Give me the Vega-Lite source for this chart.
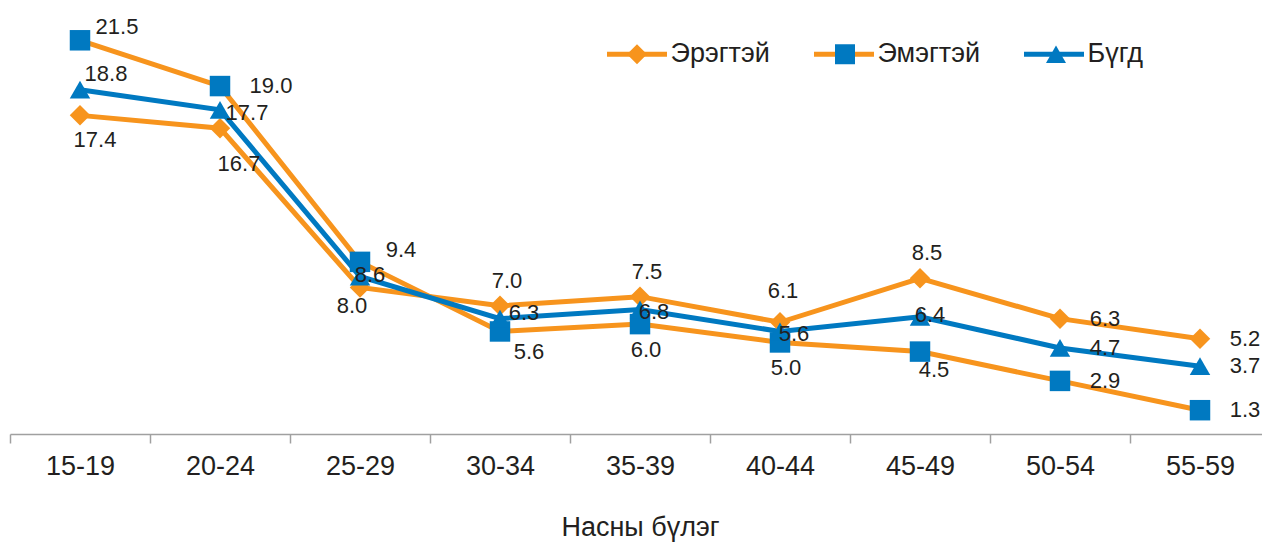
{
  "$schema": "https://vega.github.io/schema/vega-lite/v6.json",
  "width": 1260,
  "height": 434,
  "autosize": {"type": "none"},
  "padding": {"left": 10, "top": 0, "right": 0, "bottom": 109},
  "background": "white",
  "config": {
    "font": "Liberation Sans",
    "view": {"stroke": null},
    "text": {"fontSize": 22, "fill": "#231f20", "baseline": "middle", "align": "center"}
  },
  "data": {
    "values": [
      {"age": "15-19", "series": "Эрэгтэй", "value": 17.4},
      {"age": "20-24", "series": "Эрэгтэй", "value": 16.7},
      {"age": "25-29", "series": "Эрэгтэй", "value": 8.0},
      {"age": "30-34", "series": "Эрэгтэй", "value": 7.0},
      {"age": "35-39", "series": "Эрэгтэй", "value": 7.5},
      {"age": "40-44", "series": "Эрэгтэй", "value": 6.1},
      {"age": "45-49", "series": "Эрэгтэй", "value": 8.5},
      {"age": "50-54", "series": "Эрэгтэй", "value": 6.3},
      {"age": "55-59", "series": "Эрэгтэй", "value": 5.2},
      {"age": "15-19", "series": "Эмэгтэй", "value": 21.5},
      {"age": "20-24", "series": "Эмэгтэй", "value": 19.0},
      {"age": "25-29", "series": "Эмэгтэй", "value": 9.4},
      {"age": "30-34", "series": "Эмэгтэй", "value": 5.6},
      {"age": "35-39", "series": "Эмэгтэй", "value": 6.0},
      {"age": "40-44", "series": "Эмэгтэй", "value": 5.0},
      {"age": "45-49", "series": "Эмэгтэй", "value": 4.5},
      {"age": "50-54", "series": "Эмэгтэй", "value": 2.9},
      {"age": "55-59", "series": "Эмэгтэй", "value": 1.3},
      {"age": "15-19", "series": "Бүгд", "value": 18.8},
      {"age": "20-24", "series": "Бүгд", "value": 17.7},
      {"age": "25-29", "series": "Бүгд", "value": 8.6},
      {"age": "30-34", "series": "Бүгд", "value": 6.3},
      {"age": "35-39", "series": "Бүгд", "value": 6.8},
      {"age": "40-44", "series": "Бүгд", "value": 5.6},
      {"age": "45-49", "series": "Бүгд", "value": 6.4},
      {"age": "50-54", "series": "Бүгд", "value": 4.7},
      {"age": "55-59", "series": "Бүгд", "value": 3.7}
    ]
  },
  "encoding": {
    "x": {
      "field": "age",
      "type": "ordinal",
      "title": "Насны бүлэг",
      "scale": {"paddingInner": 0, "paddingOuter": 0},
      "axis": {
        "labelAngle": 0,
        "labelFontSize": 27,
        "labelColor": "#231f20",
        "labelPadding": 10,
        "tickBand": "extent",
        "tickSize": 9,
        "tickColor": "#a0a0a0",
        "tickWidth": 1.5,
        "domainColor": "#a0a0a0",
        "domainWidth": 1.5,
        "grid": false,
        "titleFontSize": 27,
        "titleFontWeight": "normal",
        "titleColor": "#231f20",
        "titlePadding": 35
      }
    },
    "y": {
      "field": "value",
      "type": "quantitative",
      "scale": {"domain": [0, 23.7], "nice": false, "zero": true},
      "axis": null
    }
  },
  "layer": [
    {
      "mark": {"type": "line", "strokeWidth": 5},
      "encoding": {
        "stroke": {
          "field": "series",
          "type": "nominal",
          "scale": {"domain": ["Эрэгтэй", "Эмэгтэй", "Бүгд"], "range": ["#F7941D", "#F7941D", "#0079C1"]},
          "legend": {
            "orient": "none",
            "direction": "horizontal",
            "legendX": 594.5,
            "legendY": 21.5,
            "title": null,
            "padding": 0,
            "symbolType": "stroke",
            "symbolSize": 3600,
            "symbolStrokeWidth": 5,
            "labelFontSize": 27,
            "labelColor": "#231f20",
            "labelOffset": 1,
            "columnPadding": 33
          }
        }
      }
    },
    {
      "mark": {"type": "point", "filled": true, "size": 420, "opacity": 1, "strokeWidth": 0},
      "encoding": {
        "fill": {
          "field": "series",
          "type": "nominal",
          "sort": "descending",
          "scale": {"range": ["#F7941D", "#0079C1", "#0079C1"]},
          "legend": {
            "orient": "none",
            "direction": "horizontal",
            "legendX": 613.5,
            "legendY": 40.5,
            "title": null,
            "padding": 0,
            "symbolSize": 400,
            "symbolStrokeWidth": 0,
            "symbolOpacity": 1,
            "labelFontSize": 27,
            "labelOpacity": 0,
            "labelOffset": 20,
            "columnPadding": 61
          }
        },
        "shape": {
          "field": "series",
          "type": "nominal",
          "sort": "descending",
          "scale": {"range": ["diamond", "square", "triangle-up"]}
        }
      }
    },
    {"transform": [{"filter": "datum.age === '50-54' || datum.age === '55-59'"}], "mark": {"type": "text", "dx": 45, "dy": 0}, "encoding": {"text": {"field": "value", "format": ".1f"}}},
    {"transform": [{"filter": "datum.series === 'Эрэгтэй' && indexof(['30-34','35-39','45-49'], datum.age) >= 0"}], "mark": {"type": "text", "dx": 7, "dy": -25}, "encoding": {"text": {"field": "value", "format": ".1f"}}},
    {"transform": [{"filter": "datum.series === 'Эрэгтэй' && datum.age === '40-44'"}], "mark": {"type": "text", "dx": 3, "dy": -31}, "encoding": {"text": {"field": "value", "format": ".1f"}}},
    {"transform": [{"filter": "datum.series === 'Эрэгтэй' && datum.age === '15-19'"}], "mark": {"type": "text", "dx": 15, "dy": 25}, "encoding": {"text": {"field": "value", "format": ".1f"}}},
    {"transform": [{"filter": "datum.series === 'Эрэгтэй' && datum.age === '20-24'"}], "mark": {"type": "text", "dx": 19, "dy": 36}, "encoding": {"text": {"field": "value", "format": ".1f"}}},
    {"transform": [{"filter": "datum.series === 'Эрэгтэй' && datum.age === '25-29'"}], "mark": {"type": "text", "dx": -8, "dy": 18}, "encoding": {"text": {"field": "value", "format": ".1f"}}},
    {"transform": [{"filter": "datum.series === 'Эмэгтэй' && datum.age === '15-19'"}], "mark": {"type": "text", "dx": 37, "dy": -13}, "encoding": {"text": {"field": "value", "format": ".1f"}}},
    {"transform": [{"filter": "datum.series === 'Эмэгтэй' && datum.age === '20-24'"}], "mark": {"type": "text", "dx": 51, "dy": 0}, "encoding": {"text": {"field": "value", "format": ".1f"}}},
    {"transform": [{"filter": "datum.series === 'Эмэгтэй' && datum.age === '25-29'"}], "mark": {"type": "text", "dx": 41, "dy": -12}, "encoding": {"text": {"field": "value", "format": ".1f"}}},
    {"transform": [{"filter": "datum.series === 'Эмэгтэй' && datum.age === '30-34'"}], "mark": {"type": "text", "dx": 29, "dy": 21}, "encoding": {"text": {"field": "value", "format": ".1f"}}},
    {"transform": [{"filter": "datum.series === 'Эмэгтэй' && (datum.age === '35-39' || datum.age === '40-44')"}], "mark": {"type": "text", "dx": 6, "dy": 26}, "encoding": {"text": {"field": "value", "format": ".1f"}}},
    {"transform": [{"filter": "datum.series === 'Эмэгтэй' && datum.age === '45-49'"}], "mark": {"type": "text", "dx": 14, "dy": 18}, "encoding": {"text": {"field": "value", "format": ".1f"}}},
    {"transform": [{"filter": "datum.series === 'Бүгд' && datum.age === '15-19'"}], "mark": {"type": "text", "dx": 26, "dy": -16}, "encoding": {"text": {"field": "value", "format": ".1f"}}},
    {"transform": [{"filter": "datum.series === 'Бүгд' && datum.age === '20-24'"}], "mark": {"type": "text", "dx": 27, "dy": 3}, "encoding": {"text": {"field": "value", "format": ".1f"}}},
    {"transform": [{"filter": "datum.series === 'Бүгд' && (datum.age === '25-29' || datum.age === '45-49')"}], "mark": {"type": "text", "dx": 10, "dy": -2}, "encoding": {"text": {"field": "value", "format": ".1f"}}},
    {"transform": [{"filter": "datum.series === 'Бүгд' && datum.age === '30-34'"}], "mark": {"type": "text", "dx": 24, "dy": -6}, "encoding": {"text": {"field": "value", "format": ".1f"}}},
    {"transform": [{"filter": "datum.series === 'Бүгд' && (datum.age === '35-39' || datum.age === '40-44')"}], "mark": {"type": "text", "dx": 14, "dy": 3}, "encoding": {"text": {"field": "value", "format": ".1f"}}}
  ]
}
